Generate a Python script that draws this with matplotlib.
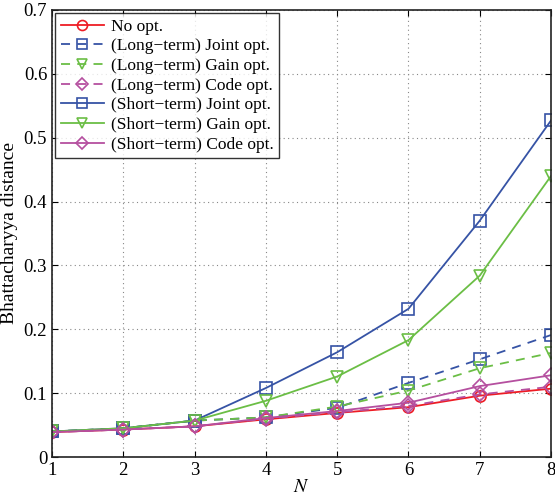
import matplotlib
matplotlib.use("Agg")
import matplotlib.pyplot as plt

plt.rcParams['font.family'] = ['Liberation Serif', 'DejaVu Serif']
plt.rcParams['mathtext.fontset'] = 'stix'

N = [1, 2, 3, 4, 5, 6, 7, 8]
no_opt = [0.039, 0.043, 0.048, 0.059, 0.069, 0.078, 0.096, 0.107]
lt_joint = [0.040, 0.045, 0.057, 0.062, 0.077, 0.116, 0.153, 0.191]
lt_gain = [0.040, 0.045, 0.057, 0.062, 0.079, 0.104, 0.139, 0.163]
lt_code = [0.039, 0.043, 0.048, 0.060, 0.070, 0.080, 0.098, 0.110]
st_joint = [0.040, 0.045, 0.057, 0.108, 0.164, 0.232, 0.370, 0.527]
st_gain = [0.040, 0.045, 0.057, 0.088, 0.126, 0.183, 0.284, 0.440]
st_code = [0.039, 0.043, 0.048, 0.061, 0.072, 0.085, 0.111, 0.128]

xticks = [1, 2, 3, 4, 5, 6, 7, 8]
yticks = [0, 0.1, 0.2, 0.3, 0.4, 0.5, 0.6, 0.7]
ytick_labels = ['0', '0.1', '0.2', '0.3', '0.4', '0.5', '0.6', '0.7']

red = '#ee1c24'
blue = '#3653a5'
green = '#6bbe45'
magenta = '#b54f9f'

fig = plt.figure(figsize=(5.55, 4.95), dpi=100)
ax = fig.add_axes([52/555, 38/495, 499/555, 447/495])

ms = 8
kw = dict(markerfacecolor='none', markersize=ms, markeredgewidth=1.2, linewidth=1.3)
ax.plot(N, no_opt, '-', marker='o', color=red, label='No opt.', **kw)
ax.plot(N, lt_joint, '--', marker='s', color=blue, label='(Long\u2212term) Joint opt.', dashes=(5, 4), **kw)
ax.plot(N, lt_gain, '--', marker='v', color=green, label='(Long\u2212term) Gain opt.', dashes=(5, 4), **kw)
ax.plot(N, lt_code, '--', marker='D', color=magenta, label='(Long\u2212term) Code opt.', dashes=(5, 4),
        markerfacecolor='none', markersize=7, markeredgewidth=1.2, linewidth=1.3)
ax.plot(N, st_joint, '-', marker='s', color=blue, label='(Short\u2212term) Joint opt.', **kw)
ax.plot(N, st_gain, '-', marker='v', color=green, label='(Short\u2212term) Gain opt.', **kw)
ax.plot(N, st_code, '-', marker='D', color=magenta, label='(Short\u2212term) Code opt.',
        markerfacecolor='none', markersize=7, markeredgewidth=1.2, linewidth=1.3)

ax.set_xlim(1, 8)
ax.set_ylim(0, 0.7)
ax.set_xticks(xticks)
ax.set_yticks(yticks)
ax.set_yticklabels(ytick_labels)
ax.tick_params(direction='in', top=True, right=True, labelsize=13.5, length=4, width=0.8)
ax.grid(True, linestyle=(0, (1, 3)), color='#888888', linewidth=0.8)
for s in ax.spines.values():
    s.set_linewidth(1.2)
    s.set_color('#222222')

ax.set_xlabel('$N$', fontsize=14, labelpad=0)
ax.set_ylabel('Bhattacharyya distance', fontsize=14, labelpad=4)

leg = ax.legend(loc='upper left', fontsize=12.5, frameon=True, fancybox=False, edgecolor='black',
                borderpad=0.3, labelspacing=0.2, handlelength=2.5, handletextpad=0.4,
                borderaxespad=0.2, markerscale=0.9)
leg.get_frame().set_linewidth(1.0)

fig.savefig('out.png', dpi=100)
